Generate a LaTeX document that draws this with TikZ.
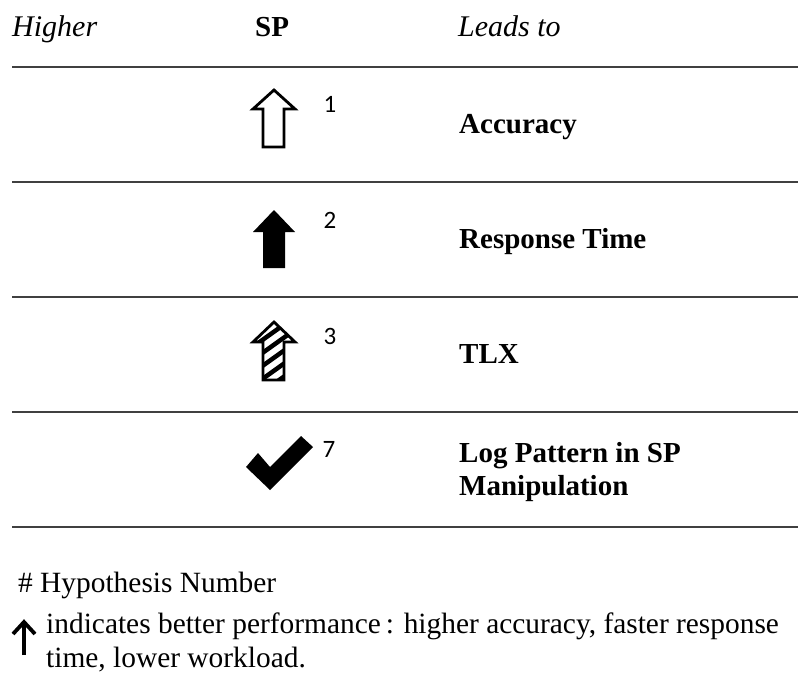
\documentclass[tikz,border=0pt]{standalone}
\usepackage{fontspec}
\setmainfont{Liberation Serif}
\newfontfamily\numfont{Carlito}
\begin{document}
\begin{tikzpicture}[x=1pt,y=-1pt,
  rule/.style={draw=black!75,line width=2pt},
  hdr/.style={anchor=base west,inner sep=0pt,font=\fontsize{30}{34}\selectfont\itshape},
  lbl/.style={anchor=base west,inner sep=0pt,font=\fontsize{29}{33}\selectfont\bfseries,align=left},
  num/.style={anchor=center,inner sep=0pt,font=\numfont\fontsize{25}{28}\selectfont},
  note/.style={anchor=base west,inner sep=0pt,font=\fontsize{29.4}{34}\selectfont,align=left},
  arr/.style={line width=2.8pt,line join=miter}]
\useasboundingbox (0,0) rectangle (798,688);
% header
\node[hdr] (hhigher) at (12,36) {Higher};
\node[hdr,font=\fontsize{29}{32}\selectfont\bfseries] (hsp) at (255,36) {SP};
\node[hdr] (hleads) at (458,36) {Leads to};
% rules
\foreach \y/\n in {67/r0,182/r1,297/r2,412/r3,527/r4}{
  \coordinate (\n a) at (12,\y); \coordinate (\n b) at (798,\y);
  \draw[rule] (\n a) -- (\n b);
}
% row 1: open arrow
\draw[arr,fill=white] (274,90) -- (295,109) -- (284,109) -- (284,147) -- (263,147) -- (263,109) -- (253,109) -- cycle;
\node[num] (n1) at (330,104) {1};
\node[lbl] (acc) at (459,133) {Accuracy};
% row 2: filled arrow
\fill[black] (274,210) -- (295,232) -- (285,232) -- (285,268) -- (263,268) -- (263,232) -- (253,232) -- cycle;
\node[num] (n2) at (330,220) {2};
\node[lbl] (rt) at (459,248) {Response Time};
% row 3: striped arrow
\begin{scope}
  \clip (274,322) -- (295,342) -- (284,342) -- (284,380) -- (263,380) -- (263,342) -- (253,342) -- cycle;
  \foreach \k in {0,...,8}{
    \draw[line width=4.5pt] (240,{330+13*\k}) -- (310,{330+13*\k-50});
  }
\end{scope}
\draw[arr] (274,322) -- (295,342) -- (284,342) -- (284,380) -- (263,380) -- (263,342) -- (253,342) -- cycle;
\node[num] (n3) at (330,336) {3};
\node[lbl] (tlx) at (459,363) {TLX};
% row 4: check mark
\fill[black] (246,467) -- (258,453) -- (270,467) -- (301,436) -- (313,447) -- (270,490) -- cycle;
\node[num] (n7) at (329,449) {7};
\node[lbl] (log) at (459,495) {Log Pattern in SP\\Manipulation};
% notes
\node[note] (hyp) at (18,592) {\# Hypothesis Number};
\draw[line width=3.8pt,line cap=butt] (24,655) -- (24,623);
\draw[line width=3.8pt,line join=miter] (13,634) -- (24,622) -- (35,634);
\node[note] (ind) at (46,667) {indicates better performance\,: higher accuracy, faster response\\time, lower workload.};
\end{tikzpicture}
\end{document}
